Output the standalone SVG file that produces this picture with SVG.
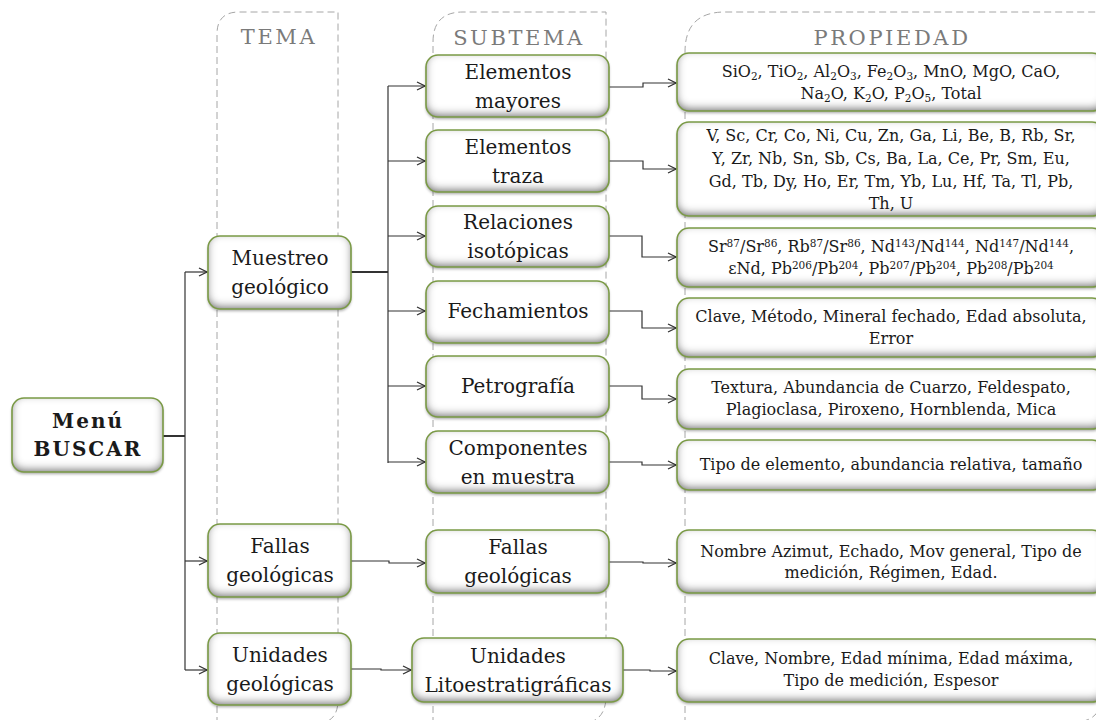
<svg xmlns="http://www.w3.org/2000/svg" width="1096" height="720" viewBox="0 0 1096 720">
<style>
.lane{fill:none;stroke:#a6a6a6;stroke-width:1;stroke-dasharray:7 4}
.hd{font-family:"DejaVu Serif",serif;font-size:21px;fill:#7a7a7a;text-anchor:middle;letter-spacing:2.6px}
.bx{fill:#fff;filter:url(#sh)}
.bd{fill:none;stroke:#7a9a45;stroke-width:1.6}
.t{font-family:"DejaVu Serif",serif;font-size:20px;fill:#1a1a1a;text-anchor:middle}
.tb{font-family:"DejaVu Serif",serif;font-size:20px;font-weight:bold;fill:#1a1a1a;text-anchor:middle;letter-spacing:2px}
.p{font-family:"DejaVu Serif",serif;font-size:16px;fill:#1a1a1a;text-anchor:middle}
.sb{font-size:10.5px;baseline-shift:-3px}
.sp{font-size:10.5px;baseline-shift:5px}
.c{fill:none;stroke:#333;stroke-width:1.2}
.ct{fill:none;stroke:#333;stroke-width:2}
</style>
<defs>
<filter id="sh" x="-10%" y="-15%" width="120%" height="135%">
<feFlood flood-color="#5c5c5c" result="f"/>
<feComposite in="f" in2="SourceAlpha" operator="out" result="out"/>
<feGaussianBlur in="out" stdDeviation="4.5" result="b"/>
<feOffset in="b" dy="-3" result="bo"/>
<feComposite in="bo" in2="SourceAlpha" operator="in" result="inner"/>
<feGaussianBlur in="SourceAlpha" stdDeviation="1.5" result="ds"/>
<feOffset in="ds" dy="2" result="dso"/>
<feComponentTransfer in="dso" result="dsa"><feFuncA type="linear" slope="0.35"/></feComponentTransfer>
<feMerge><feMergeNode in="dsa"/><feMergeNode in="SourceGraphic"/><feMergeNode in="inner"/></feMerge>
</filter>
<marker id="ar" viewBox="0 0 10 10" refX="9" refY="5" markerWidth="10" markerHeight="10" markerUnits="userSpaceOnUse" orient="auto">
<path d="M1,1 L9,5 L1,9" fill="none" stroke="#333" stroke-width="1.3"/>
</marker>
</defs>

<g id="lanes">
<path class="lane" d="M217,724 L217,34 Q217,12 239,12 L338,12 L338,700 Q338,724 314,724"/>
<path class="lane" d="M433,724 L433,42 Q433,12 463,12 L606,12 L606,696 Q606,724 578,724"/>
<path class="lane" d="M685,724 L685,52 Q685,12 725,12 L1102,12 L1102,694 Q1102,722 1074,722"/>
<text class="hd" x="279" y="44">TEMA</text>
<text class="hd" x="519" y="45">SUBTEMA</text>
<text class="hd" x="892" y="45">PROPIEDAD</text>
</g>

<g id="connectors">
<path class="ct" d="M163,436 H185"/>
<path class="c" d="M185,272 V670"/>
<path class="c" d="M185,272 H207" marker-end="url(#ar)"/>
<path class="c" d="M185,561 H207" marker-end="url(#ar)"/>
<path class="c" d="M185,670 H207" marker-end="url(#ar)"/>
<path class="ct" d="M351,272 H388"/>
<path class="c" d="M388,86 V463"/>
<path class="c" d="M388,86 H425" marker-end="url(#ar)"/>
<path class="c" d="M388,161 H425" marker-end="url(#ar)"/>
<path class="c" d="M388,236 H425" marker-end="url(#ar)"/>
<path class="c" d="M388,311 H425" marker-end="url(#ar)"/>
<path class="c" d="M388,386 H425" marker-end="url(#ar)"/>
<path class="c" d="M388,462 H425" marker-end="url(#ar)"/>
<path class="c" d="M609,87 H643 V83 H676" marker-end="url(#ar)"/>
<path class="c" d="M609,161 H643 V169 H676" marker-end="url(#ar)"/>
<path class="c" d="M609,236 H642 V257 H676" marker-end="url(#ar)"/>
<path class="c" d="M609,311 H642 V328 H676" marker-end="url(#ar)"/>
<path class="c" d="M609,386 H642 V399 H676" marker-end="url(#ar)"/>
<path class="c" d="M609,462 H642 V465 H676" marker-end="url(#ar)"/>
<path class="c" d="M351,561 H389 V563 H425" marker-end="url(#ar)"/>
<path class="c" d="M351,669 H381 V670 H411" marker-end="url(#ar)"/>
<path class="c" d="M609,562 H643 V563 H676" marker-end="url(#ar)"/>
<path class="c" d="M623,670 H650 V671 H676" marker-end="url(#ar)"/>
</g>

<g id="menu">
<rect class="bx" x="12" y="398" width="151" height="74" rx="12"/>
<rect class="bd" x="12" y="398" width="151" height="74" rx="12"/>
<text class="tb" x="88" y="428">Menú</text>
<text class="tb" x="88" y="456">BUSCAR</text>
</g>

<g id="muestreo">
<rect class="bx" x="208" y="236" width="143" height="73" rx="12"/>
<rect class="bd" x="208" y="236" width="143" height="73" rx="12"/>
<text class="t" x="280" y="265">Muestreo</text>
<text class="t" x="280" y="294">geológico</text>
</g>
<g id="fallas-tema">
<rect class="bx" x="208" y="524" width="143" height="73" rx="12"/>
<rect class="bd" x="208" y="524" width="143" height="73" rx="12"/>
<text class="t" x="280" y="553">Fallas</text>
<text class="t" x="280" y="582">geológicas</text>
</g>
<g id="unidades-tema">
<rect class="bx" x="208" y="633" width="143" height="72" rx="12"/>
<rect class="bd" x="208" y="633" width="143" height="72" rx="12"/>
<text class="t" x="280" y="662">Unidades</text>
<text class="t" x="280" y="691">geológicas</text>
</g>

<g id="mayores">
<rect class="bx" x="426" y="55" width="183" height="62" rx="12"/>
<rect class="bd" x="426" y="55" width="183" height="62" rx="12"/>
<text class="t" x="518" y="79">Elementos</text>
<text class="t" x="518" y="108">mayores</text>
</g>
<g id="traza">
<rect class="bx" x="426" y="130" width="183" height="62" rx="12"/>
<rect class="bd" x="426" y="130" width="183" height="62" rx="12"/>
<text class="t" x="518" y="154">Elementos</text>
<text class="t" x="518" y="183">traza</text>
</g>
<g id="isotopicas">
<rect class="bx" x="426" y="206" width="183" height="61" rx="12"/>
<rect class="bd" x="426" y="206" width="183" height="61" rx="12"/>
<text class="t" x="518" y="229">Relaciones</text>
<text class="t" x="518" y="258">isotópicas</text>
</g>
<g id="fechamientos">
<rect class="bx" x="426" y="281" width="183" height="62" rx="12"/>
<rect class="bd" x="426" y="281" width="183" height="62" rx="12"/>
<text class="t" x="518" y="318">Fechamientos</text>
</g>
<g id="petrografia">
<rect class="bx" x="426" y="356" width="183" height="61" rx="12"/>
<rect class="bd" x="426" y="356" width="183" height="61" rx="12"/>
<text class="t" x="518" y="393">Petrografía</text>
</g>
<g id="componentes">
<rect class="bx" x="426" y="431" width="183" height="62" rx="12"/>
<rect class="bd" x="426" y="431" width="183" height="62" rx="12"/>
<text class="t" x="518" y="455">Componentes</text>
<text class="t" x="518" y="484">en muestra</text>
</g>
<g id="fallas-sub">
<rect class="bx" x="426" y="530" width="183" height="63" rx="12"/>
<rect class="bd" x="426" y="530" width="183" height="63" rx="12"/>
<text class="t" x="518" y="554">Fallas</text>
<text class="t" x="518" y="583">geológicas</text>
</g>
<g id="lito">
<rect class="bx" x="412" y="638" width="211" height="64" rx="12"/>
<rect class="bd" x="412" y="638" width="211" height="64" rx="12"/>
<text class="t" x="518" y="663">Unidades</text>
<text class="t" x="518" y="692">Litoestratigráficas</text>
</g>

<g id="p-mayores">
<rect class="bx" x="677" y="53" width="427" height="58" rx="12"/>
<rect class="bd" x="677" y="53" width="427" height="58" rx="12"/>
<text class="p" x="891" y="77">SiO<tspan class="sb">2</tspan>, TiO<tspan class="sb">2</tspan>, Al<tspan class="sb">2</tspan>O<tspan class="sb">3</tspan>, Fe<tspan class="sb">2</tspan>O<tspan class="sb">3</tspan>, MnO, MgO, CaO,</text>
<text class="p" x="891" y="99">Na<tspan class="sb">2</tspan>O, K<tspan class="sb">2</tspan>O, P<tspan class="sb">2</tspan>O<tspan class="sb">5</tspan>, Total</text>
</g>
<g id="p-traza">
<rect class="bx" x="677" y="122" width="427" height="94" rx="12"/>
<rect class="bd" x="677" y="122" width="427" height="94" rx="12"/>
<text class="p" x="891" y="141">V, Sc, Cr, Co, Ni, Cu, Zn, Ga, Li, Be, B, Rb, Sr,</text>
<text class="p" x="891" y="164">Y, Zr, Nb, Sn, Sb, Cs, Ba, La, Ce, Pr, Sm, Eu,</text>
<text class="p" x="891" y="187">Gd, Tb, Dy, Ho, Er, Tm, Yb, Lu, Hf, Ta, Tl, Pb,</text>
<text class="p" x="891" y="209">Th, U</text>
</g>
<g id="p-isotopicas">
<rect class="bx" x="677" y="228" width="427" height="59" rx="12"/>
<rect class="bd" x="677" y="228" width="427" height="59" rx="12"/>
<text class="p" x="891" y="252">Sr<tspan class="sp">87</tspan>/Sr<tspan class="sp">86</tspan>, Rb<tspan class="sp">87</tspan>/Sr<tspan class="sp">86</tspan>, Nd<tspan class="sp">143</tspan>/Nd<tspan class="sp">144</tspan>, Nd<tspan class="sp">147</tspan>/Nd<tspan class="sp">144</tspan>,</text>
<text class="p" x="891" y="274">εNd, Pb<tspan class="sp">206</tspan>/Pb<tspan class="sp">204</tspan>, Pb<tspan class="sp">207</tspan>/Pb<tspan class="sp">204</tspan>, Pb<tspan class="sp">208</tspan>/Pb<tspan class="sp">204</tspan></text>
</g>
<g id="p-fechamientos">
<rect class="bx" x="677" y="298" width="427" height="59" rx="12"/>
<rect class="bd" x="677" y="298" width="427" height="59" rx="12"/>
<text class="p" x="891" y="322">Clave, Método, Mineral fechado, Edad absoluta,</text>
<text class="p" x="891" y="344">Error</text>
</g>
<g id="p-petrografia">
<rect class="bx" x="677" y="369" width="427" height="60" rx="12"/>
<rect class="bd" x="677" y="369" width="427" height="60" rx="12"/>
<text class="p" x="891" y="393">Textura, Abundancia de Cuarzo, Feldespato,</text>
<text class="p" x="891" y="415">Plagioclasa, Piroxeno, Hornblenda, Mica</text>
</g>
<g id="p-componentes">
<rect class="bx" x="677" y="440" width="427" height="50" rx="12"/>
<rect class="bd" x="677" y="440" width="427" height="50" rx="12"/>
<text class="p" x="891" y="470">Tipo de elemento, abundancia relativa, tamaño</text>
</g>
<g id="p-fallas">
<rect class="bx" x="677" y="530" width="427" height="63" rx="12"/>
<rect class="bd" x="677" y="530" width="427" height="63" rx="12"/>
<text class="p" x="891" y="557">Nombre Azimut, Echado, Mov general, Tipo de</text>
<text class="p" x="891" y="578">medición, Régimen, Edad.</text>
</g>
<g id="p-unidades">
<rect class="bx" x="677" y="639" width="427" height="63" rx="12"/>
<rect class="bd" x="677" y="639" width="427" height="63" rx="12"/>
<text class="p" x="891" y="664">Clave, Nombre, Edad mínima, Edad máxima,</text>
<text class="p" x="891" y="686">Tipo de medición, Espesor</text>
</g>
</svg>
